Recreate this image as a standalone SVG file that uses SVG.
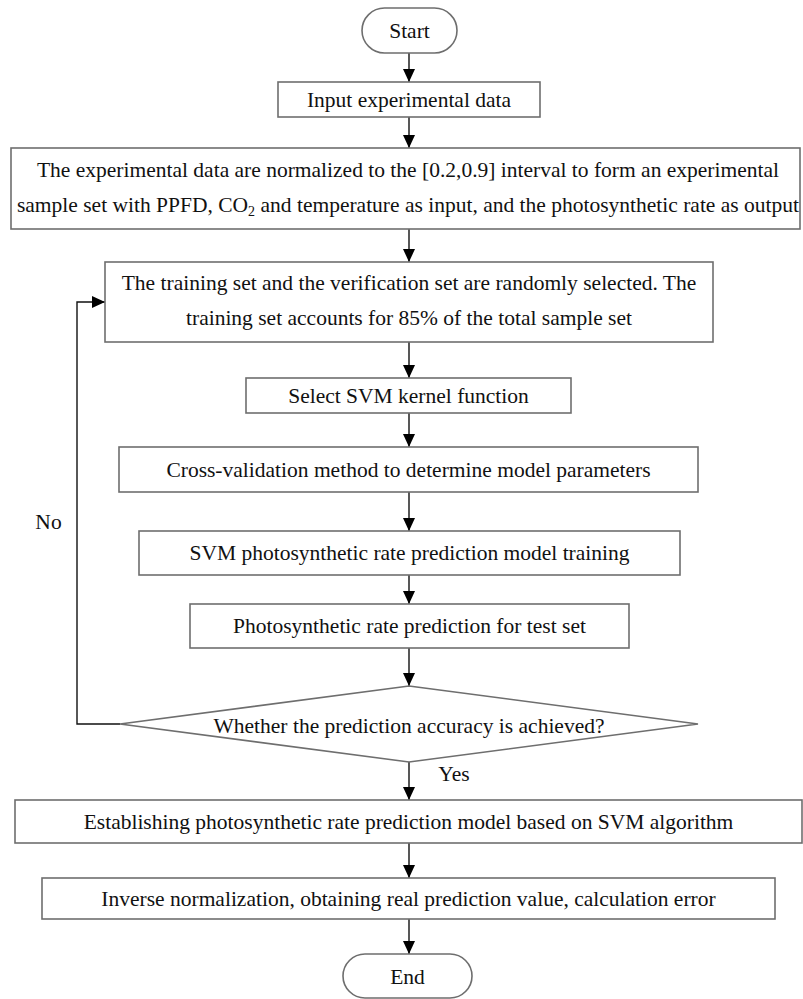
<svg xmlns="http://www.w3.org/2000/svg" width="803" height="999" viewBox="0 0 803 999">
<defs>
<marker id="arr" markerUnits="userSpaceOnUse" markerWidth="13" markerHeight="12" refX="13" refY="6" orient="auto">
<path d="M0,0 L13,6 L0,12 z" fill="#000"/>
</marker>
<style>
.box{fill:#fff;stroke:#6e6e6e;stroke-width:1.6}
.t{font-family:"Liberation Serif","Times New Roman",serif;font-size:21.5px;fill:#111;text-anchor:middle}
.l{fill:none;stroke:#111;stroke-width:1.4}
.a{fill:none;stroke:#111;stroke-width:1.4;marker-end:url(#arr)}
</style>
</defs>
<rect width="803" height="999" fill="#fff"/>
<g id="connectors">
<line class="a" x1="409" y1="53" x2="409" y2="82"/>
<line class="a" x1="409" y1="117" x2="409" y2="148"/>
<line class="a" x1="409" y1="229" x2="409" y2="262"/>
<line class="a" x1="409" y1="342" x2="409" y2="378"/>
<line class="a" x1="409" y1="413" x2="409" y2="447"/>
<line class="a" x1="409" y1="492" x2="409" y2="531"/>
<line class="a" x1="409" y1="575" x2="409" y2="604"/>
<line class="a" x1="409" y1="648" x2="409" y2="686"/>
<line class="a" x1="409" y1="762" x2="409" y2="800"/>
<line class="a" x1="409" y1="843" x2="409" y2="878"/>
<line class="a" x1="409" y1="919" x2="409" y2="954"/>
<polyline class="a" points="120,724 77,724 77,302 105,302"/>
<text class="t" x="48.5" y="529">No</text>
<text class="t" x="454" y="781">Yes</text>
</g>
<g id="start">
<rect class="box" x="362" y="8" width="95" height="45" rx="22.5"/>
<text class="t" x="409.5" y="38">Start</text>
</g>
<g id="input">
<rect class="box" x="278" y="82" width="262" height="35"/>
<text class="t" x="409" y="107">Input experimental data</text>
</g>
<g id="normalize">
<rect class="box" x="11" y="148" width="789" height="81"/>
<text class="t" x="408" y="177">The experimental data are normalized to the [0.2,0.9] interval to form an experimental</text>
<text class="t" x="408" y="212">sample set with PPFD, CO<tspan font-size="14" dy="4">2</tspan><tspan dy="-4"> and temperature as input, and the photosynthetic rate as output</tspan></text>
</g>
<g id="split">
<rect class="box" x="105" y="262" width="608" height="80"/>
<text class="t" x="409" y="290">The training set and the verification set are randomly selected. The</text>
<text class="t" x="409" y="325">training set accounts for 85% of the total sample set</text>
</g>
<g id="kernel">
<rect class="box" x="246" y="378" width="325" height="35"/>
<text class="t" x="408.5" y="403">Select SVM kernel function</text>
</g>
<g id="cv">
<rect class="box" x="119" y="447" width="579" height="45"/>
<text class="t" x="408.5" y="477">Cross-validation method to determine model parameters</text>
</g>
<g id="train">
<rect class="box" x="139" y="531" width="541" height="44"/>
<text class="t" x="409.5" y="560">SVM photosynthetic rate prediction model training</text>
</g>
<g id="predict">
<rect class="box" x="190" y="604" width="439" height="44"/>
<text class="t" x="409.5" y="633">Photosynthetic rate prediction for test set</text>
</g>
<g id="decision">
<polygon class="box" points="409,686 698,724 409,762 120,724"/>
<text class="t" x="409" y="733">Whether the prediction accuracy is achieved?</text>
</g>
<g id="establish">
<rect class="box" x="15" y="800" width="787" height="43"/>
<text class="t" x="408.5" y="829">Establishing photosynthetic rate prediction model based on SVM algorithm</text>
</g>
<g id="inverse">
<rect class="box" x="42" y="878" width="733" height="41"/>
<text class="t" x="408.5" y="906">Inverse normalization, obtaining real prediction value, calculation error</text>
</g>
<g id="end">
<rect class="box" x="343" y="954" width="129" height="44" rx="22"/>
<text class="t" x="407.5" y="984">End</text>
</g>
</svg>
